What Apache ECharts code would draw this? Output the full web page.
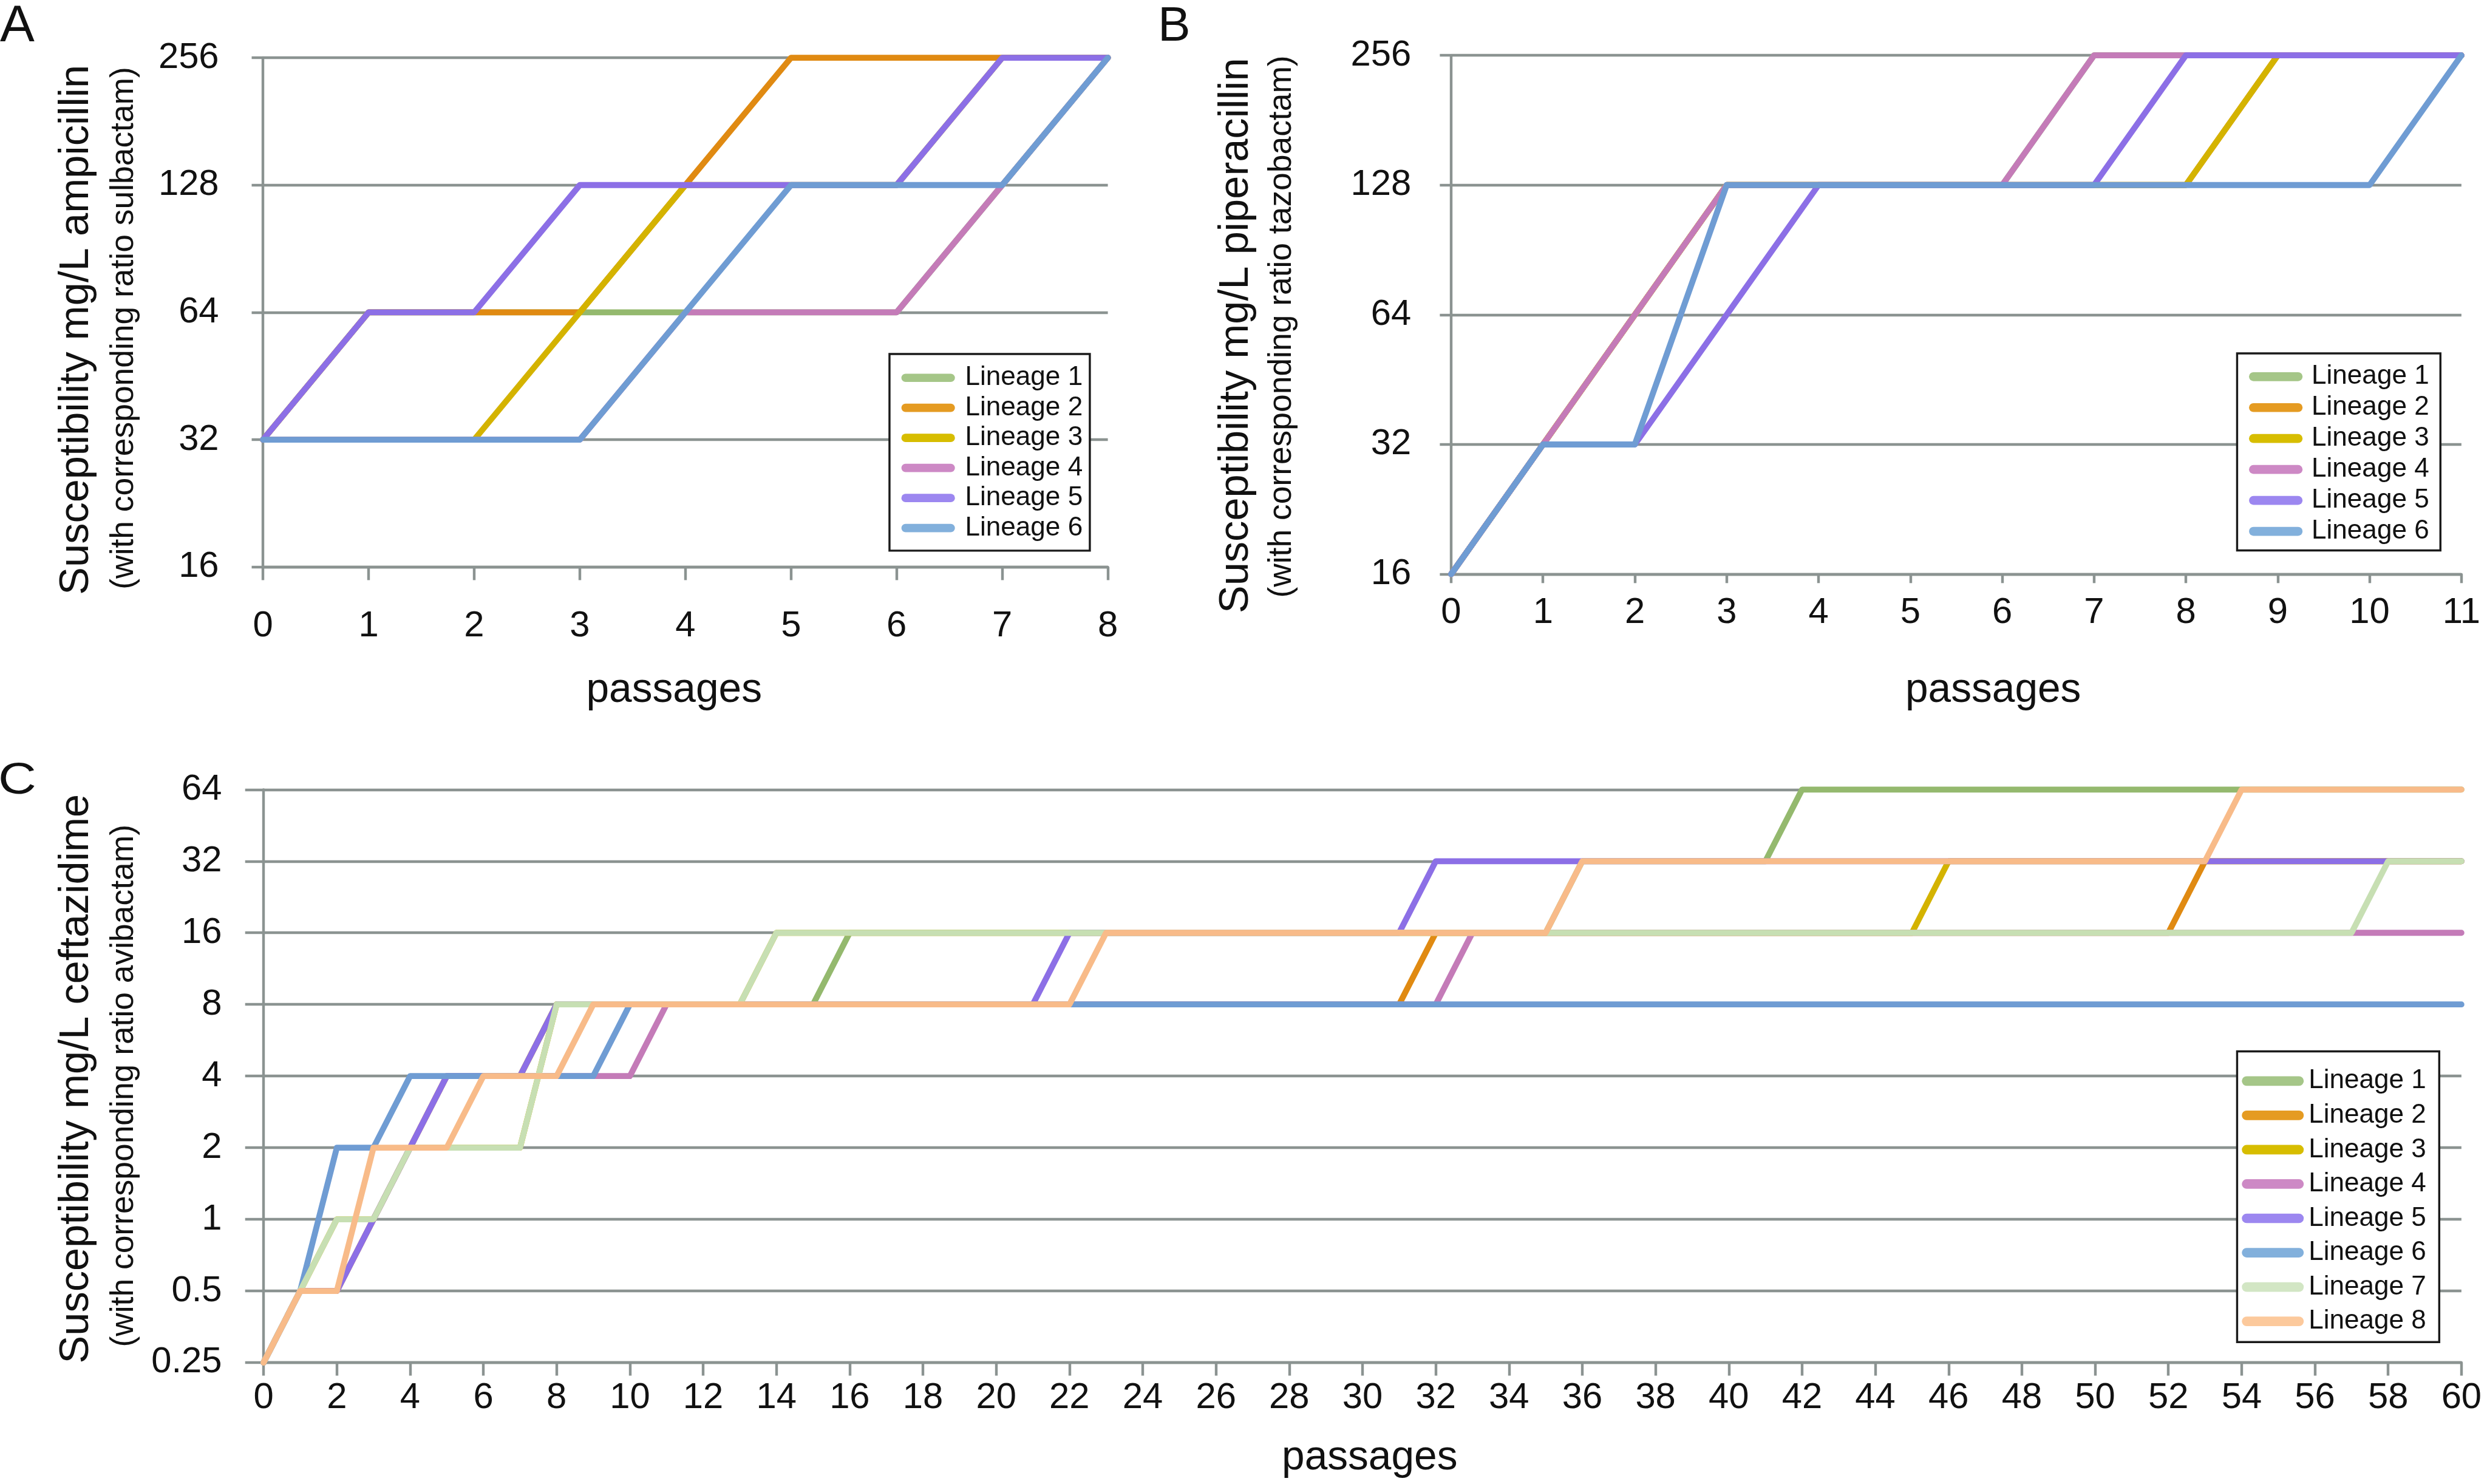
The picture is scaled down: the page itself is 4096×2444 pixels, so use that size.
<!DOCTYPE html>
<html>
<head>
<meta charset="utf-8">
<script src="https://cdn.jsdelivr.net/npm/echarts@6/dist/echarts.min.js"></script>
<style>
html,body{margin:0;padding:0;background:#fff;}
#chart{width:4096px;height:2444px;}
</style>
</head>
<body>
<div id="chart"></div>
<script>
// ================= DATA =================
const lineageNames = ['Lineage 1','Lineage 2','Lineage 3','Lineage 4','Lineage 5','Lineage 6','Lineage 7','Lineage 8'];

// Panel A – ampicillin (sulbactam)
const passagesA = [0,1,2,3,4,5,6,7,8];
const ampL1 = [32,64,64,64,64,64,64,128,256];
const ampL2 = [32,64,64,64,128,256,256,256,256];
const ampL3 = [32,32,32,64,128,128,128,256,256];
const ampL4 = [32,32,32,32,64,64,64,128,256];
const ampL5 = [32,64,64,128,128,128,128,256,256];
const ampL6 = [32,32,32,32,64,128,128,128,256];
const yTicksA = [16,32,64,128,256];

// Panel B – piperacillin (tazobactam)
const passagesB = [0,1,2,3,4,5,6,7,8,9,10,11];
const pipL1 = [16,32,64,128,128,128,128,256,256,256,256,256];
const pipL2 = [16,32,64,128,128,128,128,128,128,256,256,256];
const pipL3 = [16,32,64,128,128,128,128,128,128,256,256,256];
const pipL4 = [16,32,64,128,128,128,128,256,256,256,256,256];
const pipL5 = [16,32,32,64,128,128,128,128,256,256,256,256];
const pipL6 = [16,32,32,128,128,128,128,128,128,128,128,256];
const yTicksB = [16,32,64,128,256];

// Panel C – ceftazidime (avibactam)
const passagesC = [0,1,2,3,4,5,6,7,8,9,10,11,12,13,14,15,16,17,18,19,20,21,22,23,24,25,26,27,28,29,30,
  31,32,33,34,35,36,37,38,39,40,41,42,43,44,45,46,47,48,49,50,51,52,53,54,55,56,57,58,59,60];
const cefL1 = [0.25,0.5,0.5,1,2,4,4,4,8,8,
  8,8,8,8,8,8,16,16,16,16,
  16,16,16,16,16,16,16,16,16,16,
  16,16,16,16,16,16,32,32,32,32,
  32,32,64,64,64,64,64,64,64,64,
  64,64,64,64,64,64,64,64,64,64,
  64];
const cefL2 = [0.25,0.5,0.5,1,2,4,4,4,8,8,
  8,8,8,8,8,8,8,8,8,8,
  8,8,8,8,8,8,8,8,8,8,
  8,8,16,16,16,16,16,16,16,16,
  16,16,16,16,16,16,16,16,16,16,
  16,16,16,32,32,32,32,32,32,32,
  32];
const cefL3 = [0.25,0.5,1,1,2,2,2,2,8,8,
  8,8,8,8,16,16,16,16,16,16,
  16,16,16,16,16,16,16,16,16,16,
  16,16,16,16,16,16,16,16,16,16,
  16,16,16,16,16,16,32,32,32,32,
  32,32,32,32,32,32,32,32,32,32,
  32];
const cefL4 = [0.25,0.5,0.5,1,2,4,4,4,4,4,
  4,8,8,8,8,8,8,8,8,8,
  8,8,8,8,8,8,8,8,8,8,
  8,8,8,16,16,16,16,16,16,16,
  16,16,16,16,16,16,16,16,16,16,
  16,16,16,16,16,16,16,16,16,16,
  16];
const cefL5 = [0.25,0.5,0.5,1,2,4,4,4,8,8,
  8,8,8,8,8,8,8,8,8,8,
  8,8,16,16,16,16,16,16,16,16,
  16,16,32,32,32,32,32,32,32,32,
  32,32,32,32,32,32,32,32,32,32,
  32,32,32,32,32,32,32,32,32,32,
  32];
const cefL6 = [0.25,0.5,2,2,4,4,4,4,4,4,
  8,8,8,8,8,8,8,8,8,8,
  8,8,8,8,8,8,8,8,8,8,
  8,8,8,8,8,8,8,8,8,8,
  8,8,8,8,8,8,8,8,8,8,
  8,8,8,8,8,8,8,8,8,8,
  8];
const cefL7 = [0.25,0.5,1,1,2,2,2,2,8,8,
  8,8,8,8,16,16,16,16,16,16,
  16,16,16,16,16,16,16,16,16,16,
  16,16,16,16,16,16,16,16,16,16,
  16,16,16,16,16,16,16,16,16,16,
  16,16,16,16,16,16,16,16,32,32,
  32];
const cefL8 = [0.25,0.5,0.5,2,2,2,4,4,4,8,
  8,8,8,8,8,8,8,8,8,8,
  8,8,8,16,16,16,16,16,16,16,
  16,16,16,16,16,16,32,32,32,32,
  32,32,32,32,32,32,32,32,32,32,
  32,32,32,32,64,64,64,64,64,64,
  64];
const yTicksC = [0.25,0.5,1,2,4,8,16,32,64];

// Text
const panelLetters = ['A','B','C'];
const yTitleA = 'Susceptibility mg/L ampicillin';
const ySubA = '(with corresponding ratio sulbactam)';
const yTitleB = 'Susceptibility mg/L piperacillin';
const ySubB = '(with corresponding ratio tazobactam)';
const yTitleC = 'Susceptibility mg/L ceftazidime';
const ySubC = '(with corresponding ratio avibactam)';
const xTitle = 'passages';

// ================= STYLE =================
const S = 4096 / 4180;
const px = v => v * S;
const FONT = "'Liberation Sans', Arial, Helvetica, sans-serif";
const GRAY = '#8b9391';
const INK = '#111111';
const lineColors = ['#94b96e','#e08a12','#d4b300','#c47bb8','#8c6fe6','#6f9cd3','#c7dfb3','#f8bb89'];
const legendColors = ['#a5c688','#e59b22','#d7bd00','#cd89c5','#9c87f0','#82b0dc','#d2e6c4','#fcc99c'];

function tickFormatter(ticks) {
  return v => {
    const t = ticks.find(t => Math.abs(t - v) < 1e-6 * t);
    return t === undefined ? '' : String(t);
  };
}

function xAxisCfg(gi, min, max, interval, margin, tickLen) {
  return {
    gridIndex: gi, type: 'value', min: min, max: max, interval: interval,
    axisLine: { show: true, onZero: false, lineStyle: { color: GRAY, width: px(4.5) } },
    axisTick: { show: true, inside: false, length: px(tickLen), lineStyle: { color: GRAY, width: px(4.5) } },
    axisLabel: { show: true, margin: px(margin), fontSize: px(61), fontFamily: FONT, color: INK, hideOverlap: false },
    splitLine: { show: false }
  };
}

function yAxisCfg(gi, ticks, margin, tickLen, padTop) {
  return {
    gridIndex: gi, type: 'log', logBase: 2, min: ticks[0], max: ticks[ticks.length - 1],
    splitNumber: ticks.length - 1,
    axisLine: { show: true, lineStyle: { color: GRAY, width: px(4.5) } },
    axisTick: { show: true, inside: false, length: px(tickLen), lineStyle: { color: GRAY, width: px(4.5) } },
    axisLabel: { show: true, margin: px(margin), fontSize: px(61), fontFamily: FONT, color: INK,
      padding: [px(padTop), 0, 0, 0], formatter: tickFormatter(ticks), hideOverlap: false },
    splitLine: { show: true, lineStyle: { color: GRAY, width: px(4.5) } },
    minorTick: { show: false }, minorSplitLine: { show: false }
  };
}

function makeSeries(gi, xs, lists) {
  return lists.map((ys, i) => ({
    type: 'line', name: lineageNames[i], xAxisIndex: gi, yAxisIndex: gi,
    data: xs.map((x, j) => [x, ys[j]]),
    symbol: 'none', showSymbol: false, clip: false, silent: true, animation: false,
    itemStyle: { color: lineColors[i] },
    lineStyle: { color: lineColors[i], width: px(10), cap: 'round', join: 'round' },
    emphasis: { disabled: true }
  }));
}

function capsule(w, h) {
  const r = h / 2;
  return `path://M${r},0L${w - r},0A${r},${r},0,0,1,${w - r},${h}L${r},${h}A${r},${r},0,0,1,${r},0Z`;
}

function legendCfg(n, left, top, pad, iw, ih, pitch, textPad) {
  return {
    show: true, orient: 'vertical', left: px(left), top: px(top),
    padding: pad.map(px), itemWidth: px(iw), itemHeight: px(ih), itemGap: 0,
    icon: capsule(iw, ih), selectedMode: false,
    backgroundColor: '#ffffff', borderColor: '#1a1a1a', borderWidth: px(3.5), borderRadius: 0,
    itemStyle: { borderWidth: 0 },
    textStyle: { fontSize: px(45), lineHeight: px(pitch), fontFamily: FONT, color: INK, padding: [0, 0, 0, px(textPad)] },
    data: lineageNames.slice(0, n).map((nm, i) => ({ name: nm, itemStyle: { color: legendColors[i], borderWidth: 0 } }))
  };
}

function txt(str, x, y, size, rot, align, scaleX) {
  return {
    type: 'text', x: px(x), y: px(y), rotation: rot || 0, scaleX: scaleX || 1, silent: true,
    style: { text: str, font: `${px(size)}px ${FONT}`, fill: INK,
      align: align || 'center', textAlign: align || 'center',
      verticalAlign: 'middle', textVerticalAlign: 'middle' }
  };
}

const R = Math.PI / 2;
const option = {
  animation: false,
  backgroundColor: '#ffffff',
  grid: [
    { left: px(442), top: px(97), width: px(1420), height: px(856) },
    { left: px(2439), top: px(93), width: px(1698), height: px(872) },
    { left: px(443), top: px(1327), width: px(3694), height: px(963) }
  ],
  xAxis: [
    xAxisCfg(0, passagesA[0], passagesA[passagesA.length - 1], 1, 69.5, 22),
    xAxisCfg(1, passagesB[0], passagesB[passagesB.length - 1], 1, 34.5, 15),
    xAxisCfg(2, passagesC[0], passagesC[passagesC.length - 1], 2, 29.5, 22)
  ],
  yAxis: [
    yAxisCfg(0, yTicksA, 74, 19, 0),
    yAxisCfg(1, yTicksB, 67, 19, 0),
    yAxisCfg(2, yTicksC, 70, 31, 20)
  ],
  legend: [
    legendCfg(6, 1495, 595, [14.75, 12, 12.75, 20], 90, 14, 50.5, 12),
    legendCfg(6, 3760, 594, [13, 19, 6, 20], 90, 15, 52, 10),
    legendCfg(8, 3760, 1767, [21, 22, 6, 8], 104, 16, 57.7, 3)
  ],
  graphic: [
    txt(panelLetters[0], 0, 44.9, 87, 0, 'left'),
    txt(panelLetters[1], 1946, 45.6, 82, 0, 'left'),
    txt(panelLetters[2], -3, 1313.4, 74, 0, 'left', 1.2),
    txt(yTitleA, 128.7, 554.5, 70, R),
    txt(ySubA, 208.1, 551.5, 54.5, R),
    txt(yTitleB, 2077.7, 564, 70, R),
    txt(ySubB, 2154.1, 549, 54.5, R),
    txt(yTitleC, 128.7, 1813, 70, R),
    txt(ySubC, 208.1, 1825, 54.5, R),
    txt(xTitle, 1133, 1161, 69),
    txt(xTitle, 3350, 1161, 69),
    txt(xTitle, 2302, 2451, 69)
  ],
  series: [].concat(
    makeSeries(0, passagesA, [ampL1, ampL2, ampL3, ampL4, ampL5, ampL6]),
    makeSeries(1, passagesB, [pipL1, pipL2, pipL3, pipL4, pipL5, pipL6]),
    makeSeries(2, passagesC, [cefL1, cefL2, cefL3, cefL4, cefL5, cefL6, cefL7, cefL8])
  )
};

const chart = echarts.init(document.getElementById('chart'), null, { renderer: 'canvas', width: 4096, height: 2444 });
chart.setOption(option);
</script>
</body>
</html>
